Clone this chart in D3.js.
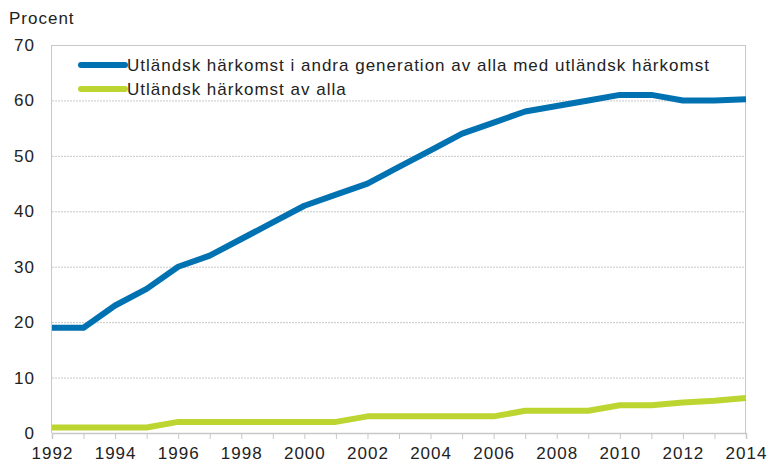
<!DOCTYPE html>
<html>
<head>
<meta charset="utf-8">
<script src="https://cdn.jsdelivr.net/npm/d3@7"></script>
<style>
  body { margin: 0; background: #fff; }
  text { font-family: "Liberation Sans", Arial, sans-serif; fill: #222; letter-spacing: 1px; }
</style>
</head>
<body>
<div id="chart"></div>
<script>
var years = d3.range(1992, 2015);
var andraGen = [19, 19, 23, 26, 30, 32, 35, 38, 41, 43, 45, 48, 51, 54, 56, 58, 59, 60, 61, 61, 60, 60, 60.2];
var avAlla = [1, 1, 1, 1, 2, 2, 2, 2, 2, 2, 3, 3, 3, 3, 3, 4, 4, 4, 5, 5, 5.5, 5.8, 6.3];
var seriesNames = ["Utländsk härkomst i andra generation av alla med utländsk härkomst", "Utländsk härkomst av alla"];
var seriesColors = ["#0072b2", "#bdd531"];
var yTicks = [0, 10, 20, 30, 40, 50, 60, 70];

var svgWidth = 772, svgHeight = 463;
var margin = { top: 45, right: 26, bottom: 30, left: 52 };
var width = svgWidth - margin.left - margin.right;
var height = svgHeight - margin.top - margin.bottom;
var fs = 17;

var svg = d3.select("#chart").append("svg")
  .attr("width", svgWidth)
  .attr("height", svgHeight);

var chartGroup = svg.append("g")
  .attr("transform", `translate(${margin.left}, ${margin.top})`);

var x = d3.scaleLinear().domain([1992, 2014]).range([0, width]);
var y = d3.scaleLinear().domain([0, 70]).range([height, 0]);

// gridlines
chartGroup.selectAll(".grid")
  .data(yTicks.filter(d => d > 0 && d < 70))
  .enter().append("line")
  .attr("x1", 0).attr("x2", width)
  .attr("y1", d => y(d) + 0.5).attr("y2", d => y(d) + 0.5)
  .attr("stroke", "#c8c8c8")
  .attr("stroke-dasharray", "2,1");

// frame top + sides
chartGroup.append("line").attr("x1", 0).attr("x2", width).attr("y1", 0.5).attr("y2", 0.5).attr("stroke", "#c8c8c8");
chartGroup.append("line").attr("x1", -0.5).attr("x2", -0.5).attr("y1", 0).attr("y2", height).attr("stroke", "#c8c8c8");
chartGroup.append("line").attr("x1", width - 0.5).attr("x2", width - 0.5).attr("y1", 0).attr("y2", height).attr("stroke", "#c8c8c8");

// x axis
var xAxis = chartGroup.append("g")
  .attr("transform", `translate(0, ${height})`)
  .call(d3.axisBottom(x).tickValues(years).tickSize(6)
    .tickFormat(d => d % 2 === 0 ? d : ""));
xAxis.select(".domain").attr("stroke", "#c8c8c8").attr("stroke-width", 1.5);
xAxis.selectAll(".tick line").attr("stroke", "#c8c8c8");
xAxis.selectAll(".tick text").attr("font-size", fs).attr("dy", "1.0em").attr("fill", "#222");

// y axis labels
var yAxis = chartGroup.append("g")
  .call(d3.axisLeft(y).tickValues(yTicks).tickSize(0).tickPadding(17));
yAxis.select(".domain").remove();
yAxis.selectAll(".tick text").attr("font-size", fs).attr("fill", "#222");

svg.append("text")
  .attr("x", 9).attr("y", 24)
  .attr("font-size", fs)
  .text("Procent");

// lines
var line = d3.line()
  .x((d, i) => x(years[i]))
  .y(d => y(d));

[avAlla, andraGen].forEach(function(vals, k) {
  chartGroup.append("path")
    .datum(vals)
    .attr("d", line)
    .attr("fill", "none")
    .attr("stroke", seriesColors[1 - k])
    .attr("stroke-width", 6)
    .attr("stroke-linejoin", "round");
});

// legend
var legend = svg.append("g");
seriesNames.forEach(function(name, i) {
  var ly = 65 + i * 24;
  legend.append("line")
    .attr("x1", 81).attr("x2", 125)
    .attr("y1", ly).attr("y2", ly)
    .attr("stroke", seriesColors[i])
    .attr("stroke-width", 6)
    .attr("stroke-linecap", "round");
  legend.append("text")
    .attr("x", 127).attr("y", ly + 6)
    .attr("font-size", fs)
    .text(name);
});
</script>
</body>
</html>
